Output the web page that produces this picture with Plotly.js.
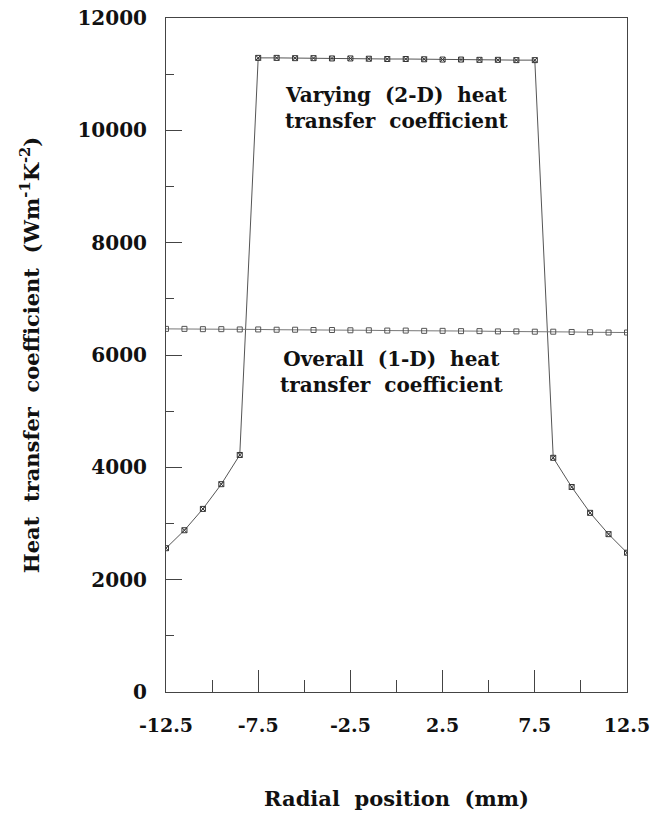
<!DOCTYPE html>
<html>
<head>
<meta charset="utf-8">
<script src="https://cdn.plot.ly/plotly-3.0.1.min.js"></script>
<style>html,body{margin:0;padding:0;background:#fff;}#chart{width:660px;height:815px;}</style>
</head>
<body>
<div id="chart"></div>
<script>
// Radial position (mm)
const radialPosition = [-12.5,-11.5,-10.5,-9.5,-8.5,-7.5,-6.5,-5.5,-4.5,-3.5,-2.5,-1.5,-0.5,0.5,1.5,2.5,3.5,4.5,5.5,6.5,7.5,8.5,9.5,10.5,11.5,12.5];
// Varying (2-D) heat transfer coefficient (W m^-1 K^-2)
const varyingHTC = [2560,2880,3260,3700,4220,11290,11290,11285,11285,11280,11280,11275,11270,11270,11265,11260,11260,11255,11255,11250,11250,4170,3650,3190,2810,2480];
// Overall (1-D) heat transfer coefficient
const overallHTC = [6465,6465,6460,6460,6455,6455,6450,6450,6445,6445,6440,6440,6435,6435,6430,6430,6425,6425,6420,6420,6415,6415,6410,6405,6400,6400];
const xTickVals = [-12.5,-7.5,-2.5,2.5,7.5,12.5];
const xTickText = ['-12.5','-7.5','-2.5','2.5','7.5','12.5'];
const yTickVals = [0,2000,4000,6000,8000,10000,12000];
const yTickText = ['0','2000','4000','6000','8000','10000','12000'];

const FONT = 'DejaVu Serif, serif';
const lineCol = '#555';

const traces = [
  {x: radialPosition, y: varyingHTC, mode: 'lines+markers', name: 'Varying (2-D)',
   line: {color: lineCol, width: 1},
   marker: {symbol: 'square-x-open', size: 5, color: '#333', line: {width: 1}}},
  {x: radialPosition, y: overallHTC, mode: 'lines+markers', name: 'Overall (1-D)',
   line: {color: '#777', width: 1},
   marker: {symbol: 'square-open', size: 5, color: '#555', line: {width: 1}}}
];

const layout = {
  width: 660, height: 815,
  margin: {l: 166, r: 33, t: 18, b: 123},
  paper_bgcolor: '#fff', plot_bgcolor: '#fff',
  showlegend: false,
  font: {family: FONT, color: '#111', size: 18},
  xaxis: {
    range: [-12.5, 12.5], showgrid: false, zeroline: false,
    showline: true, mirror: true, linecolor: '#444', linewidth: 1,
    tickmode: 'array', tickvals: xTickVals, ticktext: xTickText,
    ticks: 'inside', ticklen: 22, tickcolor: '#444', tickwidth: 1,
    minor: {tickmode: 'linear', tick0: -12.5, dtick: 2.5, ticks: 'inside', ticklen: 12, tickcolor: '#444', tickwidth: 1, showgrid: false},
    tickfont: {family: FONT, size: 19, color: '#111', weight: 'bold'},
    ticklabelstandoff: 16,
    title: {text: 'Radial  position  (mm)', font: {family: FONT, size: 21, color: '#111', weight: 'bold'}, standoff: 56}
  },
  yaxis: {
    range: [0, 12000], showgrid: false, zeroline: false,
    showline: true, mirror: true, linecolor: '#444', linewidth: 1,
    tickmode: 'array', tickvals: yTickVals, ticktext: yTickText,
    ticks: 'inside', ticklen: 16, tickcolor: '#444', tickwidth: 1,
    minor: {tickmode: 'linear', tick0: 0, dtick: 1000, ticks: 'inside', ticklen: 8, tickcolor: '#444', tickwidth: 1, showgrid: false},
    tickfont: {family: FONT, size: 20, color: '#111', weight: 'bold'},
    ticklabelstandoff: 14,
    title: {text: 'Heat  transfer  coefficient  (Wm<sup>-1</sup>K<sup>-2</sup>)', font: {family: FONT, size: 21, color: '#111', weight: 'bold'}, standoff: 32}
  },
  annotations: [
    {x: 0, y: 10400, xref: 'x', yref: 'y', showarrow: false, align: 'center',
     text: 'Varying  (2-D)  heat<br>transfer  coefficient',
     font: {family: FONT, size: 20, color: '#111', weight: 'bold'}},
    {x: -0.25, y: 5700, xref: 'x', yref: 'y', showarrow: false, align: 'center',
     text: 'Overall  (1-D)  heat<br>transfer  coefficient',
     font: {family: FONT, size: 20, color: '#111', weight: 'bold'}}
  ]
};

Plotly.newPlot('chart', traces, layout, {displayModeBar: false, staticPlot: true});
</script>
</body>
</html>
